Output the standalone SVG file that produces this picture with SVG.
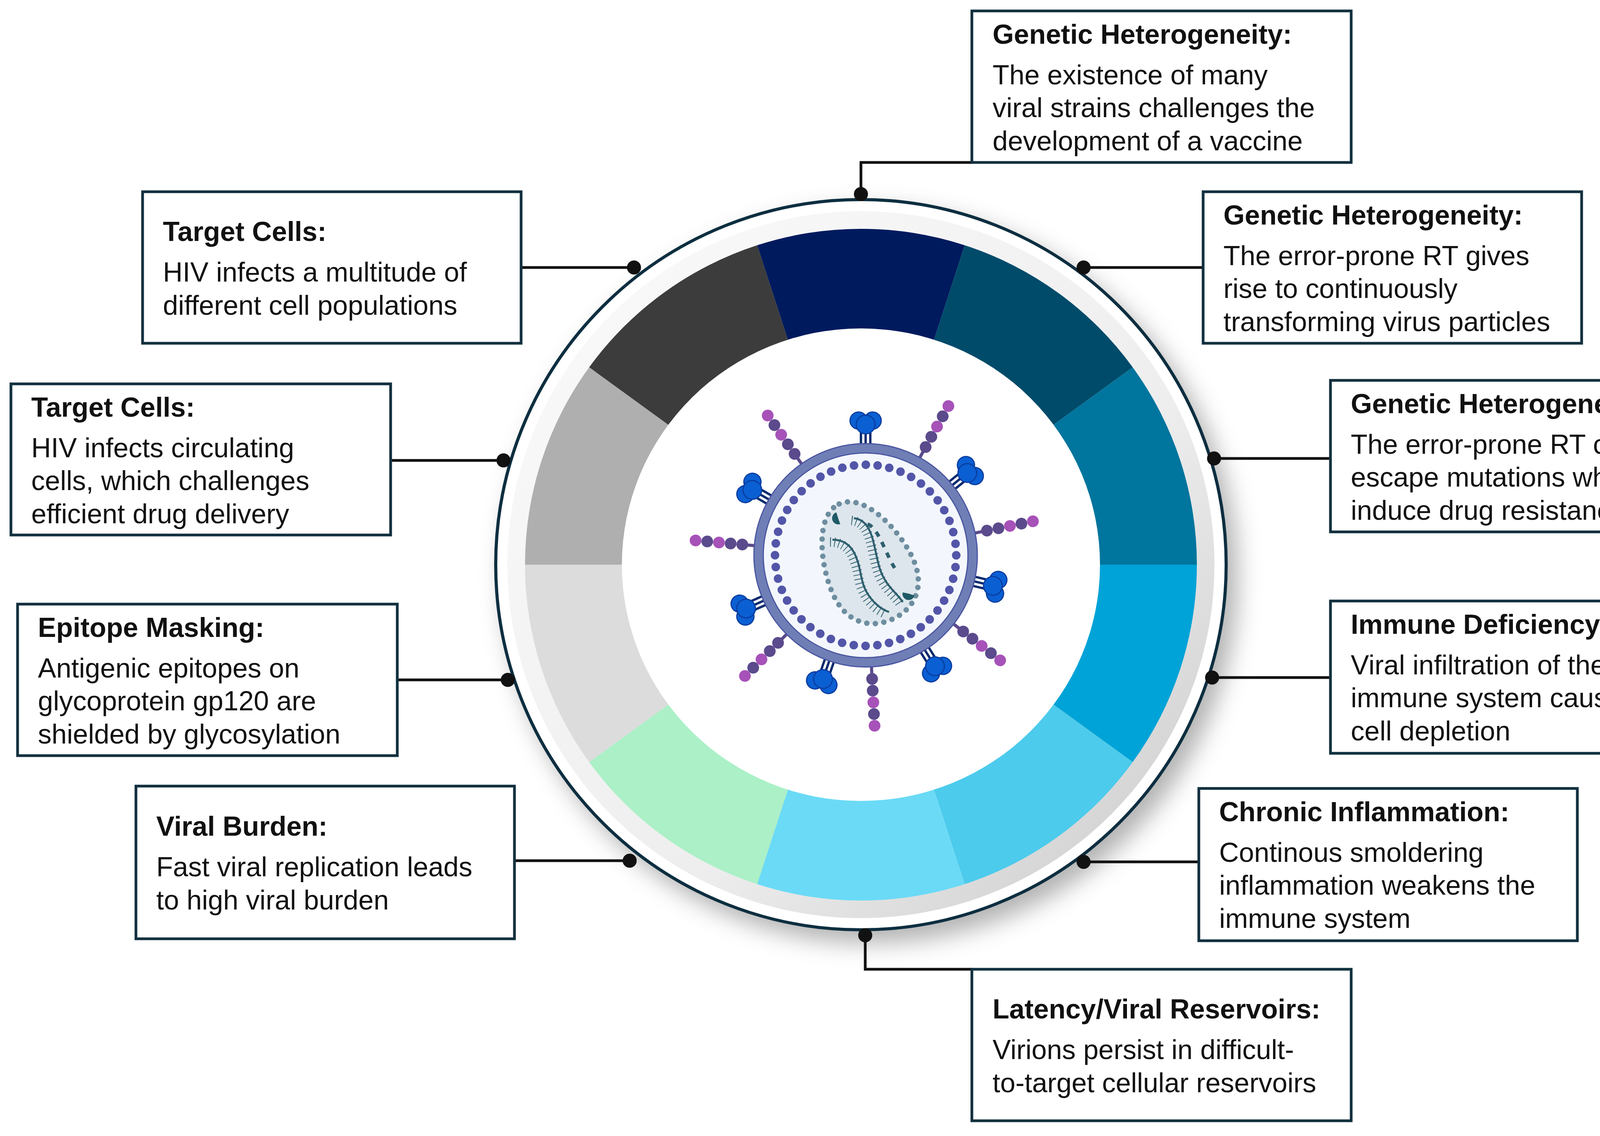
<svg xmlns="http://www.w3.org/2000/svg" width="4403" height="2909" viewBox="0 0 4403 2909">
<style>
.box{fill:#fff;stroke:#12303f;stroke-width:7}
.t{font-family:"Liberation Sans",Arial,sans-serif;font-size:70px;fill:#111}
.b{font-weight:bold}
.con{stroke:#111;stroke-width:7;fill:none}
.dot{fill:#111}
</style>
<defs>
<filter id="sh" x="-20%" y="-20%" width="140%" height="140%"><feDropShadow dx="25" dy="30" stdDeviation="30" flood-color="#000" flood-opacity="0.3"/></filter>
<linearGradient id="bev" x1="0" y1="0" x2="1" y2="1"><stop offset="0" stop-color="#fbfbfb"/><stop offset="0.6" stop-color="#eeeeee"/><stop offset="1" stop-color="#c8c8c8"/></linearGradient>
<g id="spike"><g stroke="#0b2a6e" stroke-width="6"><line x1="-12" y1="-255" x2="-12" y2="-330"/><line x1="0" y1="-250" x2="0" y2="-320"/><line x1="12" y1="-255" x2="12" y2="-330"/></g><g fill="#0a5fd3" stroke="#0a3c9e" stroke-width="3"><circle cx="-18" cy="-345" r="22"/><circle cx="18" cy="-345" r="22"/><circle cx="0" cy="-335" r="24"/></g></g>
<g id="chain"><line x1="0" y1="-265" x2="0" y2="-305" stroke="#5b4a8c" stroke-width="8"/><circle cx="0" cy="-317" r="15" fill="#5b4a8c"/><circle cx="0" cy="-347" r="15" fill="#5b4a8c"/><circle cx="0" cy="-377" r="15" fill="#a652b8"/><circle cx="0" cy="-407" r="15" fill="#5b4a8c"/><circle cx="0" cy="-437" r="15" fill="#a652b8"/></g>
</defs>
<rect width="4403" height="2909" fill="#fff"/>
<g id="ring">
<circle cx="2204" cy="1446" r="935" fill="#fff" stroke="#0f2f3f" stroke-width="8" filter="url(#sh)"/>
<circle cx="2204" cy="1446" r="905" fill="url(#bev)"/>
<path d="M2204 1446L1938.3 628A860 860 0 0 1 2469.7 628Z" fill="#001a5e"/>
<path d="M2204 1446L2469.7 628A860 860 0 0 1 2899.7 940.5Z" fill="#004b6a"/>
<path d="M2204 1446L2899.7 940.5A860 860 0 0 1 3064 1446Z" fill="#00759e"/>
<path d="M2204 1446L3064 1446A860 860 0 0 1 2899.7 1951.5Z" fill="#00a3d7"/>
<path d="M2204 1446L2899.7 1951.5A860 860 0 0 1 2469.7 2264Z" fill="#4ccbec"/>
<path d="M2204 1446L2469.7 2264A860 860 0 0 1 1938.3 2264Z" fill="#6bdaf6"/>
<path d="M2204 1446L1938.3 2264A860 860 0 0 1 1508.3 1951.5Z" fill="#abf0c7"/>
<path d="M2204 1446L1508.3 1951.5A860 860 0 0 1 1344 1446Z" fill="#dcdcdc"/>
<path d="M2204 1446L1344 1446A860 860 0 0 1 1508.3 940.5Z" fill="#afafaf"/>
<path d="M2204 1446L1508.3 940.5A860 860 0 0 1 1938.3 628Z" fill="#3c3c3c"/>
<ellipse cx="2204" cy="1446" rx="612" ry="605" fill="#fff"/>
</g>
<g id="virus" transform="translate(2216 1422)">
<use href="#chain" transform="rotate(-35)"/>
<use href="#chain" transform="rotate(29)"/>
<use href="#chain" transform="rotate(78.5)"/>
<use href="#chain" transform="rotate(128)"/>
<use href="#chain" transform="rotate(177)"/>
<use href="#chain" transform="rotate(225)"/>
<use href="#chain" transform="rotate(275)"/>
<use href="#spike" transform="rotate(0)"/>
<use href="#spike" transform="rotate(51)"/>
<use href="#spike" transform="rotate(103.5)"/>
<use href="#spike" transform="rotate(148)"/>
<use href="#spike" transform="rotate(199)"/>
<use href="#spike" transform="rotate(246)"/>
<use href="#spike" transform="rotate(300)"/>
<circle r="274" fill="#f3f7fd" stroke="#6f7fb6" stroke-width="24"/>
<circle r="286" fill="none" stroke="#4a55a0" stroke-width="3"/>
<circle r="262" fill="none" stroke="#4a55a0" stroke-width="3"/>
<circle r="232" fill="none" stroke="#5356a8" stroke-width="22" stroke-dasharray="0 30.37" stroke-linecap="round"/>
<g transform="translate(2 18) rotate(-25)">
<path d="M0 -165C70 -165 112 -40 112 40C112 120 62 160 0 160C-62 160 -112 120 -112 40C-112 -40 -70 -165 0 -165Z" fill="#dde6ec" stroke="#6e8ea0" stroke-width="14" stroke-dasharray="0 22" stroke-linecap="round"/>
</g>
<g fill="none" stroke="#2e5f6f">
<path d="M-30 -95C20 -90 20 -20 35 30C50 80 80 95 95 120" stroke-width="5"/>
<path d="M-30 -95C20 -90 20 -20 35 30C50 80 80 95 95 120" stroke-width="24" stroke-dasharray="2 9" transform="translate(-6 6)"/>
<path d="M-85 -40C-30 -40 -20 10 -10 60C0 110 40 140 60 145" stroke-width="5"/>
<path d="M-85 -40C-30 -40 -20 10 -10 60C0 110 40 140 60 145" stroke-width="24" stroke-dasharray="2 9" transform="translate(-6 6)"/>
<path d="M-65 -70C-35 -60 -15 20 10 50" stroke-width="9" stroke-dasharray="14 16" transform="translate(70 -10)"/>
</g>
<path d="M-75 -110a14 14 0 1 0 10 30l-5 -14z" fill="#1e5a66"/>
<path d="M95 95a14 14 0 1 0 30 8l-15 -5z" fill="#1e5a66"/>
</g>
<g id="connectors">
<path class="con" d="M2488 416H2204V497"/><circle class="dot" cx="2204" cy="497" r="18"/>
<path class="con" d="M1334 685H1623"/><circle class="dot" cx="1623" cy="685" r="18"/>
<path class="con" d="M1000 1179H1289"/><circle class="dot" cx="1289" cy="1179" r="18"/>
<path class="con" d="M1017 1741H1300"/><circle class="dot" cx="1300" cy="1741" r="18"/>
<path class="con" d="M1317 2204H1612"/><circle class="dot" cx="1612" cy="2204" r="18"/>
<path class="con" d="M2488 2482H2215V2395"/><circle class="dot" cx="2215" cy="2395" r="18"/>
<path class="con" d="M3069 2207H2774"/><circle class="dot" cx="2774" cy="2207" r="18"/>
<path class="con" d="M3406 1735H3103"/><circle class="dot" cx="3103" cy="1735" r="18"/>
<path class="con" d="M3406 1174H3108"/><circle class="dot" cx="3108" cy="1174" r="18"/>
<path class="con" d="M3080 685H2774"/><circle class="dot" cx="2774" cy="685" r="18"/>
</g>
<g id="n1"><rect class="box" x="2488" y="28" width="971" height="388"/>
<text class="t b" x="2541" y="112">Genetic Heterogeneity:</text>
<text class="t" x="2541" y="216">The existence of many</text><text class="t" x="2541" y="300">viral strains challenges the</text><text class="t" x="2541" y="385">development of a vaccine</text></g>
<g id="n2"><rect class="box" x="365" y="491" width="969" height="388"/>
<text class="t b" x="417" y="617">Target Cells:</text>
<text class="t" x="417" y="721">HIV infects a multitude of</text><text class="t" x="417" y="806">different cell populations</text></g>
<g id="n3"><rect class="box" x="28" y="983" width="972" height="387"/>
<text class="t b" x="80" y="1067">Target Cells:</text>
<text class="t" x="80" y="1171">HIV infects circulating</text><text class="t" x="80" y="1255">cells, which challenges</text><text class="t" x="80" y="1340">efficient drug delivery</text></g>
<g id="n4"><rect class="box" x="45" y="1547" width="972" height="388"/>
<text class="t b" x="97" y="1631">Epitope Masking:</text>
<text class="t" x="97" y="1735">Antigenic epitopes on</text><text class="t" x="97" y="1819">glycoprotein gp120 are</text><text class="t" x="97" y="1904">shielded by glycosylation</text></g>
<g id="n5"><rect class="box" x="348" y="2013" width="969" height="391"/>
<text class="t b" x="400" y="2140">Viral Burden:</text>
<text class="t" x="400" y="2244">Fast viral replication leads</text><text class="t" x="400" y="2329">to high viral burden</text></g>
<g id="n6"><rect class="box" x="2488" y="2482" width="971" height="388"/>
<text class="t b" x="2541" y="2608">Latency/Viral Reservoirs:</text>
<text class="t" x="2541" y="2712">Virions persist in difficult-</text><text class="t" x="2541" y="2797">to-target cellular reservoirs</text></g>
<g id="n7"><rect class="box" x="3069" y="2019" width="969" height="390"/>
<text class="t b" x="3121" y="2103">Chronic Inflammation:</text>
<text class="t" x="3121" y="2207">Continous smoldering</text><text class="t" x="3121" y="2291">inflammation weakens the</text><text class="t" x="3121" y="2376">immune system</text></g>
<g id="n8"><rect class="box" x="3406" y="1539" width="969" height="390"/>
<text class="t b" x="3458" y="1623">Immune Deficiency:</text>
<text class="t" x="3458" y="1727">Viral infiltration of the</text><text class="t" x="3458" y="1811">immune system causes T</text><text class="t" x="3458" y="1896">cell depletion</text></g>
<g id="n9"><rect class="box" x="3406" y="974" width="969" height="388"/>
<text class="t b" x="3458" y="1058">Genetic Heterogeneity:</text>
<text class="t" x="3458" y="1162">The error-prone RT causes</text><text class="t" x="3458" y="1246">escape mutations which</text><text class="t" x="3458" y="1331">induce drug resistance</text></g>
<g id="n10"><rect class="box" x="3080" y="491" width="969" height="388"/>
<text class="t b" x="3132" y="575">Genetic Heterogeneity:</text>
<text class="t" x="3132" y="679">The error-prone RT gives</text><text class="t" x="3132" y="763">rise to continuously</text><text class="t" x="3132" y="848">transforming virus particles</text></g>
</svg>
